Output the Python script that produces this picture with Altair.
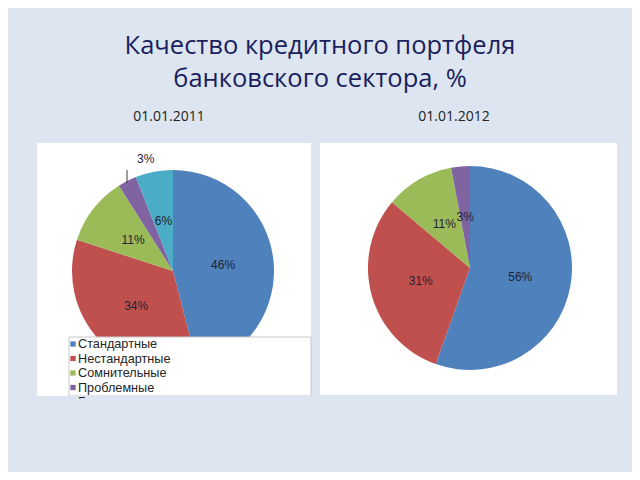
import altair as alt
import pandas as pd

cats = ["Стандартные", "Нестандартные", "Сомнительные", "Проблемные", "Безнадежные"]
colors = ["#4f81bd", "#c0504d", "#9bbb59", "#8064a2", "#4bacc6"]
vals_2011 = [46, 34, 11, 3, 6]
cats_2012 = ["Стандартные", "Нестандартные", "Сомнительные", "Проблемные"]
vals_2012 = [56, 31, 11, 3]
dates = ["01.01.2011", "01.01.2012"]
title_lines = ["Качество кредитного портфеля", "банковского сектора, %"]

BG = "#dde5f0"
LBL_FONT = "Liberation Sans"
TITLE_FONT = "Open Sans"

d11 = pd.DataFrame({"cat": cats, "v": vals_2011, "idx": list(range(len(cats)))})
d11["lab"] = d11["v"].astype(str) + "%"
d11["inlab"] = [("" if c == "Проблемные" else l) for c, l in zip(d11["cat"], d11["lab"])]
d11["outlab"] = [(l if c == "Проблемные" else "") for c, l in zip(d11["cat"], d11["lab"])]

d12 = pd.DataFrame({"cat": cats_2012, "v": vals_2012, "idx": list(range(len(cats_2012)))})
d12["lab"] = d12["v"].astype(str) + "%"

color = alt.Color("cat:N", scale=alt.Scale(domain=cats, range=colors), legend=None)
dummy = alt.Data(values=[{"k": 1}])


def rect(x, x2, y, y2, fill, stroke=None):
    kw = {}
    if stroke:
        kw = {"stroke": stroke, "strokeWidth": 1}
    return alt.Chart(dummy).mark_rect(fill=fill, **kw).encode(
        x=alt.value(x), x2=alt.value(x2), y=alt.value(y), y2=alt.value(y2))


def text(t, x, y, size, col, font, align="center"):
    return alt.Chart(dummy).mark_text(
        text=t, fontSize=size, color=col, font=font, align=align, baseline="middle"
    ).encode(x=alt.value(x), y=alt.value(y))


def pie_layers(df, cx, cy, r, labfield):
    base = alt.Chart(df).encode(
        theta=alt.Theta("v:Q", stack=True),
        order=alt.Order("idx:Q"),
    )
    arc = base.mark_arc(radius=r).encode(
        color=color, x=alt.value(cx), y=alt.value(cy))
    lab = base.mark_text(radius=r * 0.5, fontSize=12, font=LBL_FONT, color="#1e2430").encode(
        text=f"{labfield}:N", x=alt.value(cx), y=alt.value(cy))
    return arc, lab


# panels
panel_l = rect(29, 303, 135, 388, "white")
panel_r = rect(312, 609, 135, 387, "white")

arc11, lab11 = pie_layers(d11, 165, 263, 101, "inlab")
out11 = alt.Chart(d11).mark_text(
    radius=115, dx=25, dy=-10, fontSize=12, font=LBL_FONT, color="#1e2430"
).encode(
    theta=alt.Theta("v:Q", stack=True), order=alt.Order("idx:Q"),
    text="outlab:N", x=alt.value(165), y=alt.value(263))
leader = alt.Chart(dummy).mark_rule(color="#404040", strokeWidth=1).encode(
    x=alt.value(119), y=alt.value(162), y2=alt.value(175))

arc12, lab12 = pie_layers(d12, 462, 260, 102, "lab")

# legend (manual, clipped by panel bottom)
leg_box = rect(61, 303, 329, 388, "white", stroke="#c8c8c8")
leg_df = pd.DataFrame({"cat": cats})
ysc = alt.Scale(type="point", domain=cats, range=[336, 394], padding=0)
leg_sq = alt.Chart(leg_df).mark_square(size=28, opacity=1).encode(
    x=alt.value(65), y=alt.Y("cat:N", scale=ysc, axis=None), color=color)
leg_tx = alt.Chart(leg_df).mark_text(
    align="left", baseline="middle", fontSize=12.7, font=LBL_FONT, color="#262626"
).encode(x=alt.value(70), y=alt.Y("cat:N", scale=ysc, axis=None), text="cat:N")
cover = rect(20, 310, 390.5, 420, BG)
cover_edge = rect(20, 310, 388, 390.5, BG)

t1 = text(title_lines[0], 312, 38, 25.5, "#1b1f5e", TITLE_FONT)
t2 = text(title_lines[1], 312, 70.5, 25.5, "#1b1f5e", TITLE_FONT)
s1 = text(dates[0], 161, 109, 14, "#222222", TITLE_FONT)
s2 = text(dates[1], 446, 109, 14, "#222222", TITLE_FONT)

chart = alt.layer(
    panel_l, panel_r,
    arc11, lab11, out11, leader,
    arc12, lab12,
    leg_box, leg_sq, cover_edge, leg_tx, cover,
    t1, t2, s1, s2,
).resolve_scale(theta="independent").properties(
    width=624, height=464, padding=0, autosize="none", background=BG
).configure_view(stroke=None)

chart.save("out.html", embed_options={"renderer": "svg", "actions": False})
